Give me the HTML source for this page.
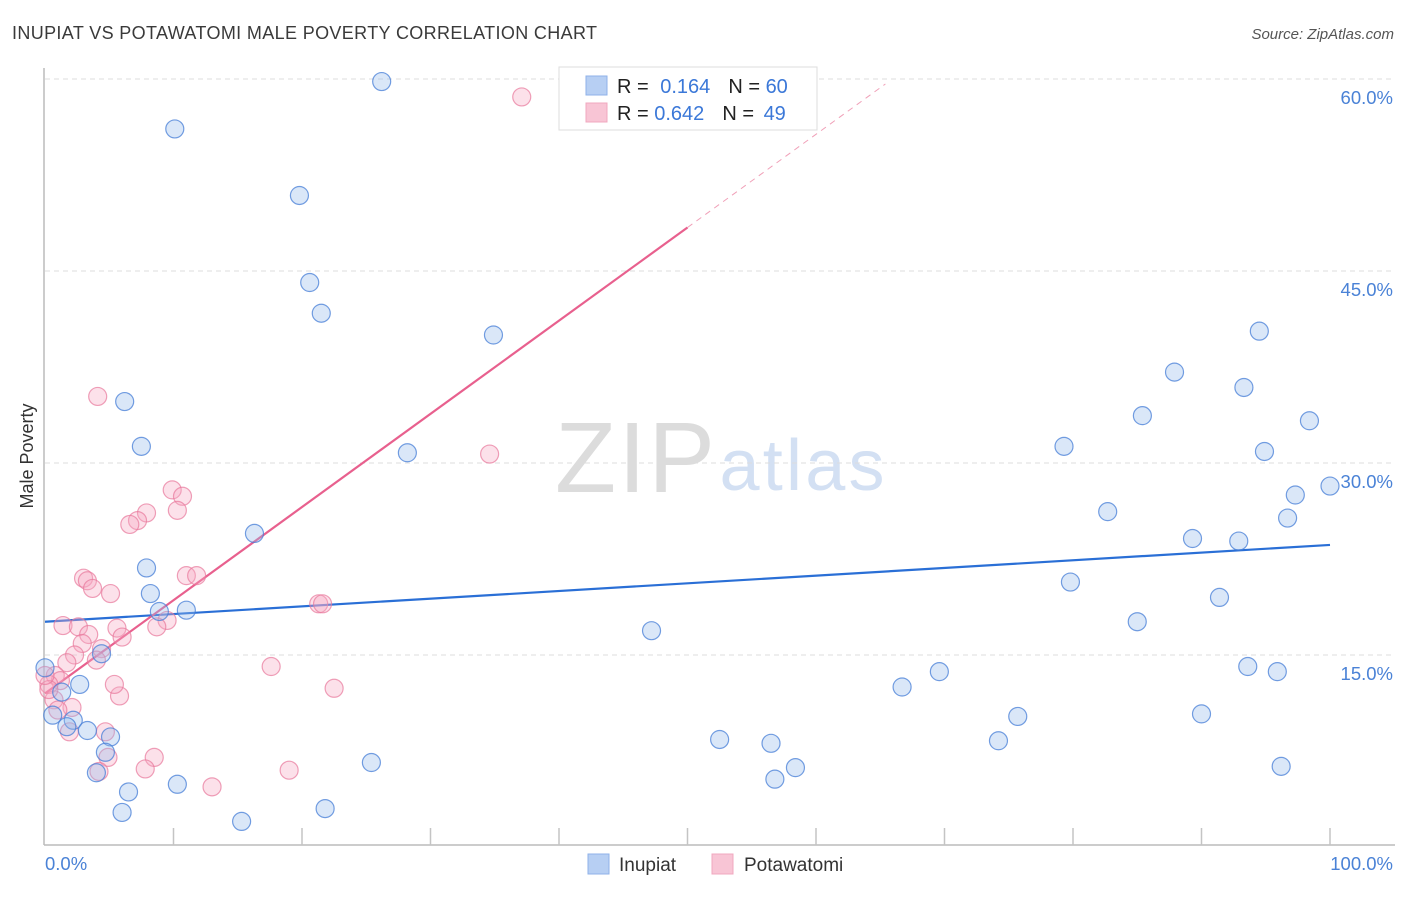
<!DOCTYPE html>
<html><head><meta charset="utf-8"><style>
body{margin:0;background:#fff;font-family:"Liberation Sans",sans-serif;}
svg text{font-family:"Liberation Sans",sans-serif;}
</style></head><body>
<svg id="chart" width="1406" height="892">
<text x="12" y="39" font-size="18" fill="#3a3a3a" textLength="585">INUPIAT VS POTAWATOMI MALE POVERTY CORRELATION CHART</text>
<text x="1394" y="39" font-size="15" fill="#555" font-style="italic" text-anchor="end">Source: ZipAtlas.com</text>
<text x="33" y="456" font-size="18" fill="#333" transform="rotate(-90 33 456)" text-anchor="middle">Male Poverty</text>
<text x="635" y="492" font-size="100" fill="#dcdcdc" font-family="Liberation Serif" text-anchor="middle" textLength="160">ZIP</text>
<text x="802" y="490" font-size="72" fill="#d3e0f3" text-anchor="middle" textLength="165">atlas</text>
<g id="grid"></g><g id="axes"></g><g id="lines"></g><g id="pts"></g>
<g>
<rect x="559" y="67" width="258" height="63" fill="#fff" stroke="#ddd"/>
<rect x="586" y="76" width="21" height="19" fill="#b7cff3" stroke="#8fb2e8"/>
<rect x="586" y="103" width="21" height="19" fill="#f8c5d5" stroke="#f0a8bf"/>
<text x="617" y="93" font-size="20" fill="#222">R = <tspan fill="#3b78d8" dx="6">0.164</tspan><tspan dx="18" fill="#222">N = </tspan><tspan fill="#3b78d8">60</tspan></text>
<text x="617" y="120" font-size="20" fill="#222">R = <tspan fill="#3b78d8">0.642</tspan><tspan dx="18" fill="#222">N = </tspan><tspan fill="#3b78d8" dx="4">49</tspan></text>
</g>
<g>
<rect x="588" y="854" width="21" height="20" fill="#b7cff3" stroke="#8fb2e8"/>
<text x="619" y="871" font-size="19" fill="#333">Inupiat</text>
<rect x="712" y="854" width="21" height="20" fill="#f8c5d5" stroke="#f0a8bf"/>
<text x="744" y="871" font-size="19" fill="#333">Potawatomi</text>
</g>
</svg>
<script>
const yTicks=[15,30,45,60];
const yTickLabels=["15.0%","30.0%","45.0%","60.0%"];
const xTicks=[0,10,20,30,40,50,60,70,80,90,100];
const inupiatX=[26.2,10.1,19.8,20.6,21.5,34.9,6.2,7.5,28.2,16.3,7.9,8.2,8.9,11.0,4.4,0,1.3,2.7,0.6,2.2,1.7,3.3,5.1,4.7,4.0,6.5,10.3,6.0,15.3,21.8,25.4,47.2,52.5,56.5,56.8,58.4,66.7,69.6,74.2,75.7,79.3,79.8,82.7,85.0,85.4,87.9,89.3,90.0,91.4,92.9,93.3,93.6,94.5,94.9,95.9,96.2,96.7,97.3,98.4,100];
const inupiatY=[59.8,56.1,50.9,44.1,41.7,40.0,34.8,31.3,30.8,24.5,21.8,19.8,18.4,18.5,15.1,14.0,12.1,12.7,10.3,9.9,9.4,9.1,8.6,7.4,5.8,4.3,4.9,2.7,2.0,3.0,6.6,16.9,8.4,8.1,5.3,6.2,12.5,13.7,8.3,10.2,31.3,20.7,26.2,17.6,33.7,37.1,24.1,10.4,19.5,23.9,35.9,14.1,40.3,30.9,13.7,6.3,25.7,27.5,33.3,28.2];
const potaX=[37.1,4.1,34.6,9.9,10.7,7.9,10.3,7.2,6.6,3.0,3.3,3.7,5.1,11.0,11.8,21.3,21.6,9.5,8.7,1.4,2.6,5.6,3.4,6.0,2.9,4.4,2.3,4.0,1.7,17.6,0.8,1.2,0.3,5.8,5.4,22.5,0.7,2.1,1.0,1.9,4.7,4.9,8.5,7.8,4.2,19.0,13.0,0.3,0];
const potaY=[58.6,35.2,30.7,27.9,27.4,26.1,26.3,25.5,25.2,21.0,20.8,20.2,19.8,21.2,21.2,19.0,19.0,17.7,17.2,17.3,17.2,17.1,16.6,16.4,15.9,15.5,15.0,14.6,14.4,14.1,13.4,13.0,12.7,11.8,12.7,12.4,11.5,10.9,10.7,9.0,9.0,7.0,7.0,6.1,5.9,6.0,4.7,12.3,13.4];
const inupiatTrend=[17.6,23.6];
const potaTrend=[12.0,0.728];
const potaSolidEnd=50, potaDashEnd=65.4;

const NS="http://www.w3.org/2000/svg";
const X0=45,X1=1330,Y0=847,PXY=12.8;
const sx=v=>X0+(X1-X0)*v/100;
const sy=v=>Y0-v*PXY;
function mk(tag,attrs,parent){const e=document.createElementNS(NS,tag);for(const k in attrs)e.setAttribute(k,attrs[k]);document.getElementById(parent).appendChild(e);return e;}

yTicks.forEach((t,i)=>{
 const g=mk('line',{x1:45,x2:1395,y1:sy(t),y2:sy(t),stroke:'#ddd','stroke-dasharray':'5,4'},'grid');
 
 
 const tx=mk('text',{x:1393,y:sy(t)+25,'font-size':18.5,fill:'#4a82d6','text-anchor':'end'},'grid');
 tx.textContent=yTickLabels[i];
 
 
});
const ax=mk('line',{x1:44,x2:44,y1:68,y2:845,stroke:'#bbb','stroke-width':1.5},'axes');


const bx=mk('line',{x1:44,x2:1395,y1:845,y2:845,stroke:'#bbb','stroke-width':1.5},'axes');


xTicks.forEach(t=>{
 if(t===0)return;
 const l=mk('line',{x1:sx(t),x2:sx(t),y1:828,y2:845,stroke:'#c4c4c4','stroke-width':1.5},'axes');
 
 
});
const xl=mk('text',{x:45,y:870,'font-size':18.5,fill:'#4a82d6'},'axes');xl.textContent='0.0%';


const xr=mk('text',{x:1393,y:870,'font-size':18.5,fill:'#4a82d6','text-anchor':'end'},'axes');xr.textContent='100.0%';



function dot(x,y,fill,stroke,name){
 const c=mk('circle',{cx:sx(x),cy:sy(y),r:9,fill:fill,stroke:stroke,'stroke-width':1.2},'pts');
 
 
}
potaX.forEach((x,i)=>dot(x,potaY[i],'rgba(245,170,195,0.35)','rgba(232,120,155,0.7)','potawatomi-point'));
inupiatX.forEach((x,i)=>dot(x,inupiatY[i],'rgba(150,185,235,0.35)','rgba(70,125,215,0.75)','inupiat-point'));

const bl=mk('line',{x1:sx(0),y1:sy(inupiatTrend[0]),x2:sx(100),y2:sy(inupiatTrend[1]),stroke:'#2a6fd6','stroke-width':2.2},'lines');


const pf=x=>potaTrend[0]+potaTrend[1]*x;
const pl=mk('line',{x1:sx(0),y1:sy(pf(0)),x2:sx(potaSolidEnd),y2:sy(pf(potaSolidEnd)),stroke:'#e8608e','stroke-width':2.2},'lines');


const pd=mk('line',{x1:sx(potaSolidEnd),y1:sy(pf(potaSolidEnd)),x2:sx(potaDashEnd),y2:sy(pf(potaDashEnd)),stroke:'#f0a0b8','stroke-width':1,'stroke-dasharray':'6,5'},'lines');


</script>
</body></html>
